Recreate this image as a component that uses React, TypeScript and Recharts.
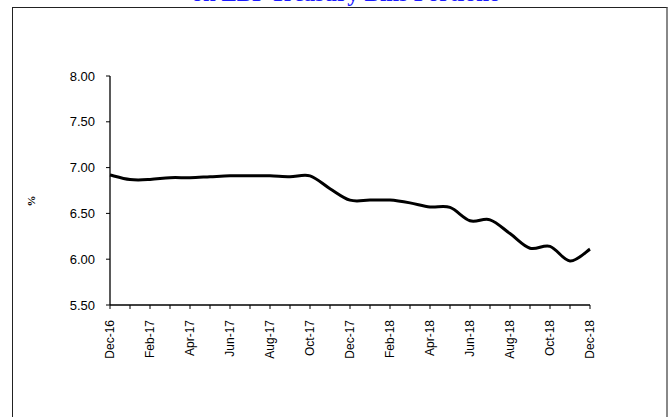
import React from 'react';
import { LineChart, Line, XAxis, YAxis } from 'recharts';

const MONTHS = [
  'Dec-16', 'Jan-17', 'Feb-17', 'Mar-17', 'Apr-17', 'May-17', 'Jun-17', 'Jul-17', 'Aug-17',
  'Sep-17', 'Oct-17', 'Nov-17', 'Dec-17', 'Jan-18', 'Feb-18', 'Mar-18', 'Apr-18', 'May-18',
  'Jun-18', 'Jul-18', 'Aug-18', 'Sep-18', 'Oct-18', 'Nov-18', 'Dec-18',
];

const YIELDS = [
  6.92, 6.87, 6.87, 6.89, 6.89, 6.9, 6.91, 6.91, 6.91,
  6.9, 6.91, 6.77, 6.645, 6.645, 6.645, 6.615, 6.57, 6.565,
  6.42, 6.43, 6.28, 6.12, 6.14, 5.98, 6.11,
];

const Y_TICKS = [5.5, 6.0, 6.5, 7.0, 7.5, 8.0];

const TITLE = 'on LBP Treasury Bills Portfolio';
const Y_TITLE = '%';

const data = MONTHS.map((month, i) => ({ month, value: YIELDS[i] }));

// Excel-like smoothed line (Catmull-Rom through every point)
const smoothCurve = (context: any) => {
  let pts: [number, number][] = [];
  return {
    areaStart() {},
    areaEnd() {},
    lineStart() {
      pts = [];
    },
    point(x: number, y: number) {
      pts.push([+x, +y]);
    },
    lineEnd() {
      if (!pts.length) return;
      context.moveTo(pts[0][0], pts[0][1]);
      for (let i = 0; i < pts.length - 1; i++) {
        const p0 = pts[Math.max(i - 1, 0)];
        const p1 = pts[i];
        const p2 = pts[i + 1];
        const p3 = pts[Math.min(i + 2, pts.length - 1)];
        context.bezierCurveTo(
          p1[0] + (p2[0] - p0[0]) / 6,
          p1[1] + (p2[1] - p0[1]) / 6,
          p2[0] - (p3[0] - p1[0]) / 6,
          p2[1] - (p3[1] - p1[1]) / 6,
          p2[0],
          p2[1],
        );
      }
    },
  };
};

const MonthTick = (props: any) => {
  const { x, y, payload, index } = props;
  if (index % 2 !== 0) return null;
  return (
    <text
      x={x}
      y={y + 9}
      transform={`rotate(-90, ${x}, ${y + 9})`}
      textAnchor="end"
      dominantBaseline="central"
      fontSize={12}
      fontFamily="'Liberation Sans', Arial, sans-serif"
      fill="#000"
    >
      {payload.value}
    </text>
  );
};

const ValueTick = (props: any) => {
  const { x, y, payload } = props;
  return (
    <text
      x={x - 9}
      y={y}
      textAnchor="end"
      dominantBaseline="central"
      fontSize={13}
      fontFamily="'Liberation Sans', Arial, sans-serif"
      fill="#000"
    >
      {Number(payload.value).toFixed(2)}
    </text>
  );
};

export default function App() {
  return (
    <div style={{ position: 'absolute', left: 0, top: 0, width: 670, height: 417, overflow: 'hidden', background: '#fff' }}>
      <div
        style={{
          position: 'absolute',
          left: 12,
          top: 7,
          width: 653,
          height: 430,
          borderTop: '1.5px solid #222',
          borderLeft: '1.5px solid #222',
          borderRight: '2px solid #888',
        }}
      />
      <svg width={670} height={417} style={{ position: 'absolute', left: 0, top: 0 }}>
        <text
          x={346}
          y={1}
          textAnchor="middle"
          fontSize={23}
          fontWeight="bold"
          fontFamily="'Liberation Serif', 'Times New Roman', serif"
          fill="#1a1aff"
        >
          {TITLE}
        </text>
        <text
          x={31}
          y={201}
          transform="rotate(-90, 31, 201)"
          textAnchor="middle"
          dominantBaseline="central"
          fontSize={11}
          fontWeight="bold"
          fontFamily="'Liberation Serif', 'Times New Roman', serif"
          fill="#000"
        >
          {Y_TITLE}
        </text>
      </svg>
      <div style={{ position: 'absolute', left: 0, top: 0 }}>
        <LineChart width={670} height={417} data={data} margin={{ top: 76, right: 80, bottom: 52, left: 40 }}>
          <XAxis
            dataKey="month"
            interval={0}
            tick={<MonthTick />}
            tickSize={4}
            height={60}
            axisLine={{ stroke: '#000', strokeWidth: 1.3 }}
            tickLine={{ stroke: '#000' }}
          />
          <YAxis
            domain={[5.5, 8]}
            ticks={Y_TICKS}
            tickSize={4}
            width={70}
            axisLine={{ stroke: '#000', strokeWidth: 1.3 }}
            tickLine={{ stroke: '#000' }}
            tick={<ValueTick />}
          />
          <Line
            type={smoothCurve as any}
            dataKey="value"
            stroke="#000"
            strokeWidth={3}
            dot={false}
            isAnimationActive={false}
          />
        </LineChart>
      </div>
    </div>
  );
}
